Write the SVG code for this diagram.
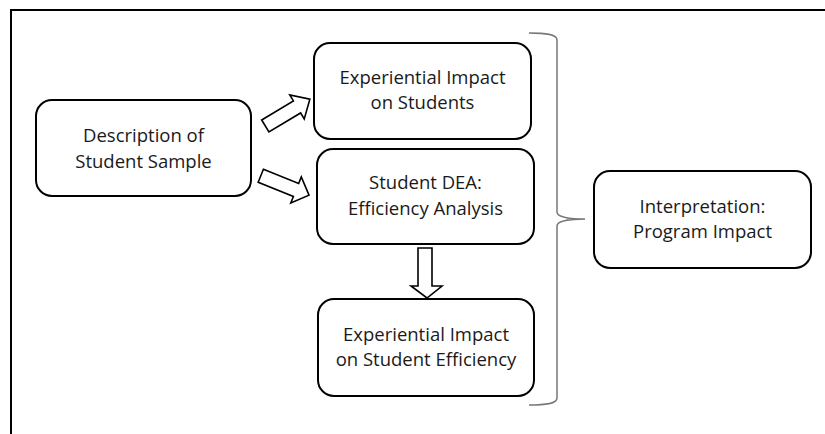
<svg xmlns="http://www.w3.org/2000/svg" width="825" height="434" viewBox="0 0 825 434">
<style>
.box{fill:#fff;stroke:#000;stroke-width:2}
.lbl{font-family:"Open Sans","Noto Sans",sans-serif;font-size:18.5px;fill:#1a1a1a;text-anchor:middle}
.blk{fill:#fff;stroke:#000;stroke-width:1.6;stroke-linejoin:miter}
.brace{fill:none;stroke:#777;stroke-width:1.5}
</style>
<rect x="0" y="0" width="825" height="434" fill="#fff"/>
<path d="M11,434 V10 H825" fill="none" stroke="#000" stroke-width="2"/>
<g id="n1">
<rect class="box" x="36" y="100" width="215" height="96" rx="16"/>
<text class="lbl" x="143.5" y="142">Description of</text>
<text class="lbl" x="143.5" y="168">Student Sample</text>
</g>
<g id="n2">
<rect class="box" x="314" y="43" width="217" height="96" rx="16"/>
<text class="lbl" x="422.5" y="84">Experiential Impact</text>
<text class="lbl" x="422.5" y="109">on Students</text>
</g>
<g id="n3">
<rect class="box" x="317" y="149" width="217" height="95" rx="16"/>
<text class="lbl" x="425.5" y="189">Student DEA:</text>
<text class="lbl" x="425.5" y="215">Efficiency Analysis</text>
</g>
<g id="n4">
<rect class="box" x="318" y="299" width="216" height="97" rx="16"/>
<text class="lbl" x="426" y="341">Experiential Impact</text>
<text class="lbl" x="426" y="366">on Student Efficiency</text>
</g>
<g id="n5">
<rect class="box" x="594" y="171" width="217" height="97" rx="16"/>
<text class="lbl" x="702.5" y="213">Interpretation:</text>
<text class="lbl" x="702.5" y="238">Program Impact</text>
</g>
<g id="connectors">
<polygon class="blk" transform="translate(265.3,126) rotate(-31)" points="0,-7 37,-7 37,-14 52,0 37,14 37,7 0,7"/>
<polygon class="blk" transform="translate(260.8,175.7) rotate(22)" points="0,-7 38,-7 38,-14 52,0 38,14 38,7 0,7"/>
<polygon class="blk" points="418,248 432,248 432,286 442,286 427,298 411,286 418,286"/>
<path class="brace" d="M529,33 C545,33 557,34 557,40 V212 C557,217 570,219 585,219 C570,219 557,221 557,226 V398 C557,404 545,405 529,405"/>
</g>
</svg>
